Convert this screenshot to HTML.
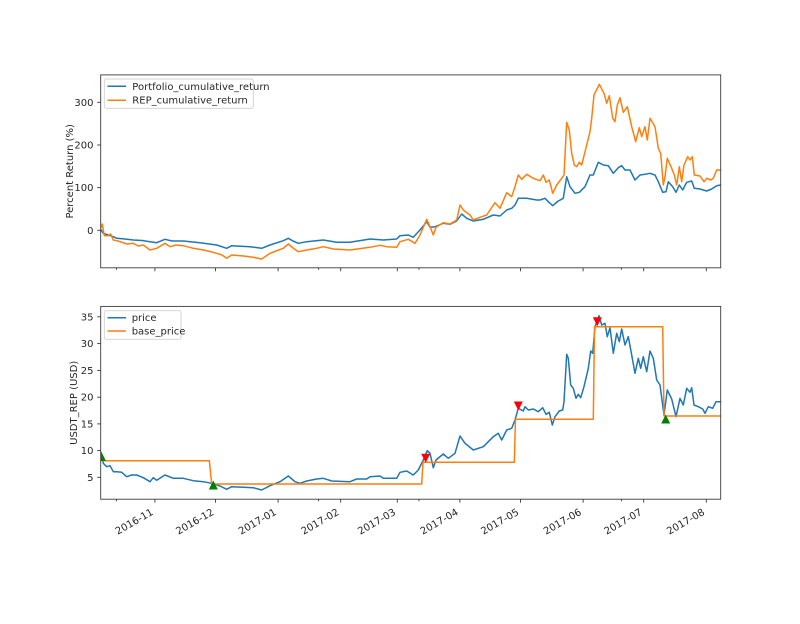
<!DOCTYPE html>
<html><head><meta charset="utf-8"><style>
html,body{margin:0;padding:0;background:#fff;}
svg{display:block;}
text{font-family:"DejaVu Sans","Liberation Sans",sans-serif;font-size:10px;fill:#262626;}
</style></head><body>
<svg width="800" height="624" viewBox="0 0 800 624" xmlns="http://www.w3.org/2000/svg">
<defs>
<clipPath id="c1"><rect x="100.7" y="74.9" width="620" height="192.9"/></clipPath>
<clipPath id="c2"><rect x="100.7" y="306.4" width="620" height="192.8"/></clipPath>
</defs>
<rect width="800" height="624" fill="#fff"/>

<!-- ===== TOP AXES ===== -->
<g clip-path="url(#c1)" fill="none" stroke-width="1.5" stroke-linejoin="round">
<polyline stroke="#1f77b4" points="100.7,229.3 103.3,233.3 108.3,235 113.3,236.7 116.7,238.3 125,239 133.3,240 142,240.5 150,241.7 156.7,242.7 165,239.3 172,241 183.3,241 200,242.7 216.7,245 226.7,248.3 231.7,245.7 250,246.7 261.7,248.3 270,245 283.3,240.7 288.3,238.3 293,241 298.3,243.3 306.7,241.7 323.3,240 336.7,242.3 350,242.3 370,239 383.3,240 396.7,239 400,235.7 408.3,235 413.3,237.3 420,230 426.7,221.7 430,227.3 435,226.7 443.3,223.3 450,224.3 456.7,221 461.7,214 466.7,218.3 473.3,221 483.3,219.3 493.3,215 500,216 506.7,210 511.7,208.3 515,205 518.3,198.3 526.7,198.3 536.7,200 540,200 545,198.3 548.3,201.7 552.7,205.7 558.3,201 563.3,198.3 566.7,176.7 570,186.7 575,193.3 579.3,192.3 585,186.7 590,175 593.3,175 598.3,162.3 603.3,165 608.3,165.7 613.3,173.3 618.3,167.7 621.7,165.7 625,170 630,170 635,180 640,175 645,174.3 650,173.3 655,175 658.3,181.7 662.7,192.3 666,191.7 668.3,181.7 672.7,186.7 676,192.3 679.3,185 682.7,190 686.7,182.3 691.7,181 694.3,188.3 700,189 706.7,191 711.7,189 716.7,185.7 720.7,185"/>
<polyline stroke="#ff7f0e" points="100.7,228.3 102.3,224 104.3,235.7 108.3,235.7 110.7,234 113.3,240 116.7,240.7 121,242 126.7,244 133.3,243.3 138,246 143.3,245 150,250 156.7,248.3 165,243.3 170,246.7 176,245 183.3,245.7 193.3,248.3 203.3,250 210,251.5 216.7,253.3 222,255 226.7,258.3 231.7,255 243.3,256 253.3,257.3 261.7,259 270,253.3 276,251 283.3,248.3 288.3,244 293,248 298.3,251.7 306.7,250 316.7,248.3 323.3,246.7 333.3,249 350,250 370,247.3 380,245.3 386.7,246.7 396.7,247.3 400,241.7 408.3,239.3 415,243.3 420,235 426.7,219.3 430,226.7 433.3,235 436,227.3 443.3,222.7 450,224 456.7,220 460,205 463.3,210 470,215 473.3,220 480,217.3 486.7,215 495,202.7 500,208.3 506.7,192.7 511.7,196.7 515,186.7 518.3,175 521.7,179.3 526.7,174.3 533.3,178.3 540,180.7 543.3,175 546,182.3 549.3,180 552.7,193.3 556.7,185 561.7,178.3 564,175 566.7,122.3 569.3,130 571.7,153.3 574.3,165 576.7,166.7 579.3,162.3 581.7,165 586.7,145 590,131.7 591.7,118.3 594,95 599.3,84.3 604,93.3 606.7,103.3 609.3,95.7 612.7,118.3 615,121.7 617.3,105 620,97.7 623.3,112.3 627.3,106.7 631.7,126.7 635.7,141.7 639.3,127.7 641.7,136.7 645,126.7 647.3,140 650,118.3 655,126.7 658.3,148.3 660.7,153.3 663.3,185 665,176.7 667.3,158.3 671.7,168.3 674.3,175 676.7,185 679.3,166.7 681.7,181.7 684,165 687.7,156.7 690,160 692.3,156.7 694.3,175 700,176 704,181.7 706.7,178.3 710.7,180 713.3,178.3 716.7,170 720.7,170"/>
</g>
<rect x="100.7" y="74.9" width="620" height="192.9" fill="none" stroke="#3a3a3a" stroke-width="0.9"/>
<!-- top y ticks -->
<g stroke="#3a3a3a" stroke-width="0.9">
<line x1="97.2" y1="230.3" x2="100.7" y2="230.3"/>
<line x1="97.2" y1="187.6" x2="100.7" y2="187.6"/>
<line x1="97.2" y1="145" x2="100.7" y2="145"/>
<line x1="97.2" y1="102.3" x2="100.7" y2="102.3"/>
</g>
<g text-anchor="end">
<text x="93.5" y="233.8">0</text>
<text x="93.5" y="191.1">100</text>
<text x="93.5" y="148.5">200</text>
<text x="93.5" y="105.8">300</text>
</g>
<!-- top x ticks -->
<g stroke="#3a3a3a" stroke-width="0.9">
<line x1="154.9" y1="267.8" x2="154.9" y2="271.3"/>
<line x1="215.5" y1="267.8" x2="215.5" y2="271.3"/>
<line x1="278.1" y1="267.8" x2="278.1" y2="271.3"/>
<line x1="340.7" y1="267.8" x2="340.7" y2="271.3"/>
<line x1="397.3" y1="267.8" x2="397.3" y2="271.3"/>
<line x1="459.9" y1="267.8" x2="459.9" y2="271.3"/>
<line x1="520.5" y1="267.8" x2="520.5" y2="271.3"/>
<line x1="583.1" y1="267.8" x2="583.1" y2="271.3"/>
<line x1="643.7" y1="267.8" x2="643.7" y2="271.3"/>
<line x1="706.3" y1="267.8" x2="706.3" y2="271.3"/>
<line x1="116.5" y1="267.8" x2="116.5" y2="269.8"/>
<line x1="318.6" y1="267.8" x2="318.6" y2="269.8"/>
<line x1="419" y1="267.8" x2="419" y2="269.8"/>
<line x1="621.4" y1="267.8" x2="621.4" y2="269.8"/>
</g>
<text transform="translate(72.8,171.3) rotate(-90)" text-anchor="middle">Percent Return (%)</text>
<!-- top legend -->
<rect x="104.3" y="79" width="149" height="29.3" rx="2" fill="#fff" fill-opacity="0.8" stroke="#d0d0d0" stroke-width="0.9"/>
<line x1="107.5" y1="86.3" x2="126" y2="86.3" stroke="#1f77b4" stroke-width="1.5"/>
<line x1="107.5" y1="100.2" x2="126" y2="100.2" stroke="#ff7f0e" stroke-width="1.5"/>
<text x="132.3" y="89.8">Portfolio_cumulative_return</text>
<text x="132.3" y="103.7">REP_cumulative_return</text>

<!-- ===== BOTTOM AXES ===== -->
<g clip-path="url(#c2)" fill="none" stroke-width="1.5" stroke-linejoin="round">
<polyline stroke="#1f77b4" points="100.7,451.7 103.3,463.3 106.7,466.7 110,465.7 113.3,471.7 116.7,471.7 121.7,472.3 126.7,476.7 131.7,475 136.7,475 143.3,477.7 150,481.7 153.3,477.7 156.7,480.3 165,475 173.3,478.3 183.3,478.3 193.3,480.7 203.3,481.7 211.7,483.3 220,486 226.7,489.3 231.7,486.7 243.3,487.3 253.3,487.7 261.7,490 270,485.7 280,481.7 288.3,476 295,481.7 300,483.3 306.7,481 316.7,479 323.3,478.3 331.7,481 350,481.7 356.7,479 366.7,479 370,476.7 380,476 383.3,478.3 396.7,478.3 400,472.3 406.7,471 413.3,475 418.3,470 423.3,460 427.3,450.7 430,453.3 433.3,467.7 436,460 443.3,454 448.3,458.3 455,453.3 460,436 465,443.3 473.3,450 483.3,446.7 493.3,436.7 498.3,433.3 501.7,440 506.7,430 511.7,428.3 515,420 518.3,408.3 523.3,411 525,406.7 528.3,410 533.3,409 538.3,411.7 542.7,407.7 546,414.3 549.3,412.3 552.3,425 555,416.7 559.3,411 562.7,410 564,401.7 566.7,354.3 568.3,358.3 570.7,385 573.3,388.3 576,398.3 578.3,394.3 580.7,397.7 584,386.7 588.3,368.3 590.7,351 592.7,353.3 595,326.7 599,315.7 601.7,325 605,323.3 607.3,336.7 610,327.7 613.3,353.3 616.7,333.3 619.3,341.7 621.7,329 625,345 628.3,336.7 631.7,355 635,373.3 638.3,358.3 640.7,368.3 643.3,356.7 646.7,371.7 650,351 653.3,358.3 656.7,380 660,385 664,415 667.3,390 671.7,399 676,416.7 680,398.3 683.3,405 686.7,388.3 690,392.3 691.7,387.7 694,405 698.3,406.7 702.7,409 705,413.3 708.3,406.7 712.7,408.3 716,401.7 720.7,401.7"/>
<polyline stroke="#ff7f0e" points="100.7,460.7 209.3,460.7 211.7,484 421.7,484 423,462.3 514.3,462.3 515.5,419.3 593.3,419.3 594.5,326.7 662.7,326.7 664,416 720.7,416"/>
<g stroke="none">
<polygon fill="#008000" points="101.5,452 97,461 106,461"/>
<polygon fill="#008000" points="213.3,480.5 208.8,489.5 217.8,489.5"/>
<polygon fill="#008000" points="665.7,414.5 661.2,423.5 670.2,423.5"/>
<polygon fill="#ff0000" points="421.2,453.8 430.2,453.8 425.7,462.8"/>
<polygon fill="#ff0000" points="513.8,401.5 522.8,401.5 518.3,410.5"/>
<polygon fill="#ff0000" points="592.8,317.2 601.8,317.2 597.3,326.2"/>
</g>
</g>
<rect x="100.7" y="306.4" width="620" height="192.8" fill="none" stroke="#3a3a3a" stroke-width="0.9"/>
<!-- bottom y ticks -->
<g stroke="#3a3a3a" stroke-width="0.9">
<line x1="97.2" y1="477.3" x2="100.7" y2="477.3"/>
<line x1="97.2" y1="450.6" x2="100.7" y2="450.6"/>
<line x1="97.2" y1="423.9" x2="100.7" y2="423.9"/>
<line x1="97.2" y1="397.2" x2="100.7" y2="397.2"/>
<line x1="97.2" y1="370.4" x2="100.7" y2="370.4"/>
<line x1="97.2" y1="343.6" x2="100.7" y2="343.6"/>
<line x1="97.2" y1="316.8" x2="100.7" y2="316.8"/>
</g>
<g text-anchor="end">
<text x="93.5" y="480.8">5</text>
<text x="93.5" y="454.1">10</text>
<text x="93.5" y="427.4">15</text>
<text x="93.5" y="400.7">20</text>
<text x="93.5" y="373.9">25</text>
<text x="93.5" y="347.1">30</text>
<text x="93.5" y="320.3">35</text>
</g>
<!-- bottom x ticks -->
<g stroke="#3a3a3a" stroke-width="0.9">
<line x1="154.9" y1="499.2" x2="154.9" y2="502.7"/>
<line x1="215.5" y1="499.2" x2="215.5" y2="502.7"/>
<line x1="278.1" y1="499.2" x2="278.1" y2="502.7"/>
<line x1="340.7" y1="499.2" x2="340.7" y2="502.7"/>
<line x1="397.3" y1="499.2" x2="397.3" y2="502.7"/>
<line x1="459.9" y1="499.2" x2="459.9" y2="502.7"/>
<line x1="520.5" y1="499.2" x2="520.5" y2="502.7"/>
<line x1="583.1" y1="499.2" x2="583.1" y2="502.7"/>
<line x1="643.7" y1="499.2" x2="643.7" y2="502.7"/>
<line x1="706.3" y1="499.2" x2="706.3" y2="502.7"/>
<line x1="116.5" y1="499.2" x2="116.5" y2="501.2"/>
<line x1="318.6" y1="499.2" x2="318.6" y2="501.2"/>
<line x1="419" y1="499.2" x2="419" y2="501.2"/>
<line x1="621.4" y1="499.2" x2="621.4" y2="501.2"/>
</g>
<g text-anchor="end">
<text transform="translate(154,514) rotate(-30)">2016-11</text>
<text transform="translate(214.6,514) rotate(-30)">2016-12</text>
<text transform="translate(277.2,514) rotate(-30)">2017-01</text>
<text transform="translate(339.8,514) rotate(-30)">2017-02</text>
<text transform="translate(396.4,514) rotate(-30)">2017-03</text>
<text transform="translate(459,514) rotate(-30)">2017-04</text>
<text transform="translate(519.6,514) rotate(-30)">2017-05</text>
<text transform="translate(582.2,514) rotate(-30)">2017-06</text>
<text transform="translate(642.8,514) rotate(-30)">2017-07</text>
<text transform="translate(705.4,514) rotate(-30)">2017-08</text>
</g>
<text transform="translate(77,402.8) rotate(-90)" text-anchor="middle">USDT_REP (USD)</text>
<!-- bottom legend -->
<rect x="104.3" y="310.7" width="76.7" height="28.6" rx="2" fill="#fff" fill-opacity="0.8" stroke="#d0d0d0" stroke-width="0.9"/>
<line x1="107.5" y1="317.7" x2="126" y2="317.7" stroke="#1f77b4" stroke-width="1.5"/>
<line x1="107.5" y1="331" x2="126" y2="331" stroke="#ff7f0e" stroke-width="1.5"/>
<text x="131.7" y="321.2">price</text>
<text x="131.7" y="334.5">base_price</text>
</svg>
</body></html>
